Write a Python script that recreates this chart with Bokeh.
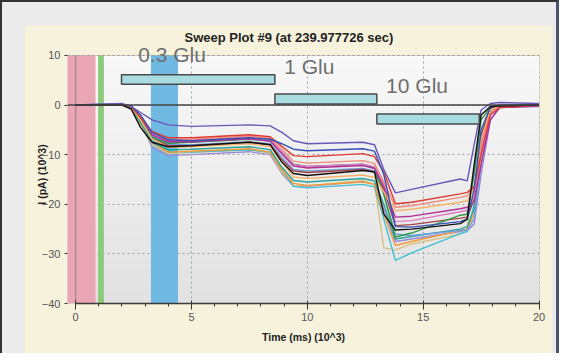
import numpy as np
from bokeh.plotting import figure
from bokeh.models import Range1d, Label, Span, BoxAnnotation, SingleIntervalTicker
from bokeh.layouts import column
from bokeh.embed import file_html
from bokeh.resources import INLINE

# ---------------- data ----------------
time_pts = [0, 2.0, 2.4, 2.8, 3.3, 4.0, 5.0, 7.5, 8.4, 8.9, 9.4, 10.0,
            12.4, 12.9, 13.3, 13.8, 14.5, 16.6, 16.9, 17.2, 17.5, 17.9, 18.3, 20]

trace_purple   = [0, 0.3, -0.3, -1.5, -3.0, -4.0, -4.3, -4.0, -4.2, -5.5, -7.2, -7.8, -7.5, -8.0, -13.0, -17.7, -17.0, -14.9, -15.3, -8.0, -1.0, 0.3, 0.5, 0.3]
trace_navy     = [0, 0.2, -0.2, -2.0, -5.5, -7.0, -7.2, -6.6, -6.9, -7.8, -8.9, -9.2, -8.8, -9.3, -14.0, -24.5, -24.6, -23.5, -23.0, -17.0, -5.0, -0.5, 0.0, 0.0]
trace_red      = [0, 0.0, -0.3, -2.5, -5.3, -6.6, -6.6, -6.0, -6.4, -8.3, -10.2, -10.4, -9.8, -10.4, -13.5, -19.9, -19.6, -17.9, -17.6, -16.5, -10.0, -2.0, -0.5, 0.0]
trace_salmon   = [0, 0.0, -0.3, -2.2, -5.5, -7.0, -6.9, -6.3, -6.7, -8.8, -11.3, -11.7, -11.2, -11.8, -15.5, -20.6, -20.3, -18.6, -18.3, -16.5, -8.0, -1.5, -0.3, 0.0]
trace_lorange  = [0, 0.0, -0.4, -3.0, -6.8, -8.5, -8.4, -7.8, -8.4, -11.5, -14.5, -14.8, -14.1, -14.6, -17.5, -21.3, -21.0, -19.6, -19.3, -17.0, -7.0, -1.0, -0.2, 0.0]
trace_magenta  = [0, 0.0, -0.3, -2.5, -6.0, -7.4, -7.4, -6.8, -7.3, -9.8, -12.3, -12.7, -12.2, -12.8, -16.5, -22.6, -22.4, -20.9, -20.6, -19.5, -12.0, -3.0, -0.5, -0.2]
trace_pink     = [0, 0.0, -0.3, -2.4, -5.8, -7.2, -7.1, -6.5, -6.9, -9.4, -12.0, -12.4, -11.9, -12.4, -16.0, -23.5, -23.3, -21.5, -21.2, -18.5, -9.0, -1.5, -0.3, 0.0]
trace_green    = [0, 0.0, -0.4, -3.0, -6.5, -7.7, -7.5, -6.9, -7.2, -9.4, -11.9, -12.4, -11.9, -12.7, -18.0, -26.6, -25.8, -22.2, -22.0, -14.0, -3.0, -0.5, -0.2, 0.0]
trace_brown    = [0, 0.0, -0.3, -2.8, -6.5, -8.2, -8.2, -7.5, -8.0, -11.0, -13.3, -13.6, -13.0, -13.5, -17.0, -24.3, -24.1, -22.8, -22.6, -19.0, -6.0, -0.8, -0.2, 0.0]
trace_lblue    = [0, 0.0, -0.3, -2.5, -6.2, -8.0, -8.0, -7.4, -7.8, -10.5, -13.0, -13.3, -12.8, -13.3, -18.0, -26.0, -26.3, -25.3, -25.2, -23.0, -12.0, -2.0, -0.3, 0.0]
trace_teal     = [0, 0.0, -0.5, -3.5, -7.5, -9.0, -8.9, -8.4, -9.0, -12.5, -15.2, -15.5, -14.8, -15.3, -20.0, -27.0, -26.5, -25.0, -24.5, -21.0, -8.0, -1.0, -0.3, 0.0]
trace_lavender = [0, 0.0, -0.5, -3.5, -8.5, -10.2, -10.0, -9.4, -10.0, -13.8, -16.3, -16.4, -15.4, -16.0, -21.0, -27.5, -27.0, -25.5, -25.3, -24.0, -14.0, -3.0, -0.5, -0.3]
trace_orange   = [0, 0.0, -0.5, -3.5, -7.5, -9.5, -9.3, -8.8, -9.5, -13.0, -15.8, -16.2, -15.5, -16.0, -22.0, -28.3, -27.5, -25.3, -25.0, -22.0, -10.0, -1.5, -0.3, -0.2]
trace_cyan     = [0, 0.0, -0.5, -3.0, -7.0, -9.3, -9.5, -9.0, -9.5, -13.0, -16.4, -16.7, -16.0, -16.5, -23.0, -31.3, -29.8, -25.9, -25.5, -20.0, -6.0, -1.0, -0.3, -0.2]
trace_tan      = [0, 0.0, -0.8, -4.0, -8.0, -9.8, -9.6, -9.0, -9.7, -13.5, -16.2, -16.3, -15.2, -16.0, -28.8, -29.2, -28.0, -26.0, -25.0, -13.0, -2.0, -0.5, 0.0, 0.0]
trace_black    = [0, 0.0, -0.8, -4.5, -7.5, -8.4, -8.2, -7.5, -8.0, -11.5, -13.8, -14.2, -13.2, -13.5, -22.0, -25.2, -25.0, -23.9, -23.0, -12.0, -2.0, -0.3, -0.2, 0.0]

traces = [
    (trace_lavender, "#9a88d8"), (trace_tan, "#d6c383"), (trace_cyan, "#3fbfd6"),
    (trace_orange, "#f29a36"), (trace_teal, "#2aa39a"), (trace_lblue, "#6b9fe0"),
    (trace_brown, "#a54242"), (trace_green, "#2f9a4a"), (trace_pink, "#e27ac4"),
    (trace_magenta, "#b0309a"), (trace_lorange, "#f6b46a"), (trace_salmon, "#f08a78"),
    (trace_red, "#e03a30"), (trace_navy, "#3552b8"), (trace_purple, "#6a55b8"),
    (trace_black, "#111111"),
]

# solution application protocol
bar_labels = ["0.3 Glu", "1 Glu", "10 Glu"]
bar_start = [1.98, 8.6, 13.0]
bar_end = [8.6, 13.0, 17.42]
bar_bottom = [4.2, 0.2, -3.8]
bar_top = [6.1, 2.2, -1.8]

# shaded markers
band_start = [-0.35, 0.97, 3.25]
band_end = [0.86, 1.22, 4.42]
band_colors = ["#eba6b6", "#8dca7c", "#6fb9e3"]

# axis extents
x_lo, x_hi = -0.35, 20.02
y_lo, y_hi = -40, 10

CREAM = "#f6f2dc"

# ---------------- figure ----------------
p = figure(width=528, height=328,
           x_range=Range1d(x_lo, x_hi), y_range=Range1d(y_lo, 12),
           output_backend="svg", toolbar_location=None,
           min_border_left=43, min_border_right=13, min_border_top=20, min_border_bottom=50,
           border_fill_color=CREAM, background_fill_color=CREAM,
           outline_line_color=None,
           title="Sweep Plot #9 (at 239.977726 sec)")
p.margin = (23, 4, 0, 22)

p.title.align = "left"
p.title.offset = 117
p.title.standoff = 2
p.title.text_font = "Liberation Sans"
p.title.text_font_size = "13px"
p.title.text_font_style = "bold"
p.title.text_color = "#222222"

# plot-area background gradient image
grad = np.linspace(0, 1, 64).reshape(64, 1)
img = np.zeros((64, 2), dtype=np.uint32)
view = img.view(dtype=np.uint8).reshape((64, 2, 4))
g = (226 + (249 - 226) * grad).astype(np.uint8)
view[:, :, 0] = g
view[:, :, 1] = g
view[:, :, 2] = g
view[:, :, 3] = 255
p.image_rgba(image=[img], x=x_lo, y=y_lo, dw=x_hi - x_lo, dh=y_hi - y_lo, level="image")

# axes
for ax in p.xaxis:
    ax.ticker = SingleIntervalTicker(interval=5, num_minor_ticks=5)
    ax.bounds = (0, 20)
    ax.axis_label = "Time (ms) (10^3)"
    ax.axis_line_color = "#333333"
    ax.axis_line_width = 1.5
    ax.major_tick_in = 3
    ax.major_tick_out = 6
    ax.minor_tick_in = 0
    ax.minor_tick_out = 3
    ax.major_tick_line_color = "#333333"
    ax.minor_tick_line_color = "#333333"
    ax.major_label_standoff = 3
    ax.axis_label_standoff = 7

for ax in p.yaxis:
    ax.ticker = SingleIntervalTicker(interval=10, num_minor_ticks=5)
    ax.bounds = (y_lo, y_hi)
    ax.axis_label = "I (pA) (10^3)"
    ax.axis_line_color = None
    ax.major_tick_in = 0
    ax.major_tick_out = 3
    ax.minor_tick_line_color = None
    ax.major_tick_line_color = "#333333"
    ax.major_label_standoff = 3
    ax.axis_label_standoff = -9

for ax in list(p.xaxis) + list(p.yaxis):
    ax.major_label_text_font = "Liberation Sans"
    ax.major_label_text_font_size = "11px"
    ax.major_label_text_color = "#555555"
    ax.axis_label_text_font = "Liberation Sans"
    ax.axis_label_text_font_size = "10.5px"
    ax.axis_label_text_font_style = "bold"
    ax.axis_label_text_color = "#222222"

p.xgrid.grid_line_color = "#a0a0a0"
p.ygrid.grid_line_color = "#a0a0a0"
p.xgrid.grid_line_dash = "2 3"
p.ygrid.grid_line_dash = "2 3"
p.xgrid.cross_bounds = (y_lo, y_hi)
p.ygrid.cross_bounds = (x_lo, x_hi)

# shaded marker bands (plot-area height)
p.quad(left=band_start, right=band_end, top=[y_hi] * len(band_start),
       bottom=[y_lo] * len(band_start), fill_color=band_colors, line_color=None)

# plot-area outline and the y axis line at x = 0
p.add_layout(BoxAnnotation(left=x_lo, right=x_hi, top=y_hi, bottom=y_lo, fill_color=None,
                           line_color="#7a7a7a", line_width=1))
p.add_layout(BoxAnnotation(left=0, right=0, top=y_hi, bottom=y_lo, fill_color=None,
                           line_color="#333333", line_width=1.5))
p.add_layout(Span(location=0, dimension="width", line_color="#444444", line_width=1.5))

for vals, col in traces:
    p.line(time_pts, vals, line_color=col, line_width=1.4)

p.quad(left=bar_start, right=bar_end, bottom=bar_bottom, top=bar_top,
       fill_color="#a8dce0", line_color="#4a4a4a", line_width=1.5)

label_pos = [(2.7, 10.2), (9.0, 7.8), (13.4, 3.9)]
for txt, (lx, ly) in zip(bar_labels, label_pos):
    p.add_layout(Label(x=lx, y=ly, text=txt, text_font="Liberation Sans",
                       text_baseline="alphabetic", level="overlay",
                       text_font_size="21px", text_color="#6e6e6e"))

layout = column(p, styles={"background-color": "#ebebeb",
                           "border-top": "2px solid #333333",
                           "border-left": "2px solid #333333",
                           "border-right": "3px solid #4b5375"})

open("out.html", "w").write(file_html(layout, INLINE))
